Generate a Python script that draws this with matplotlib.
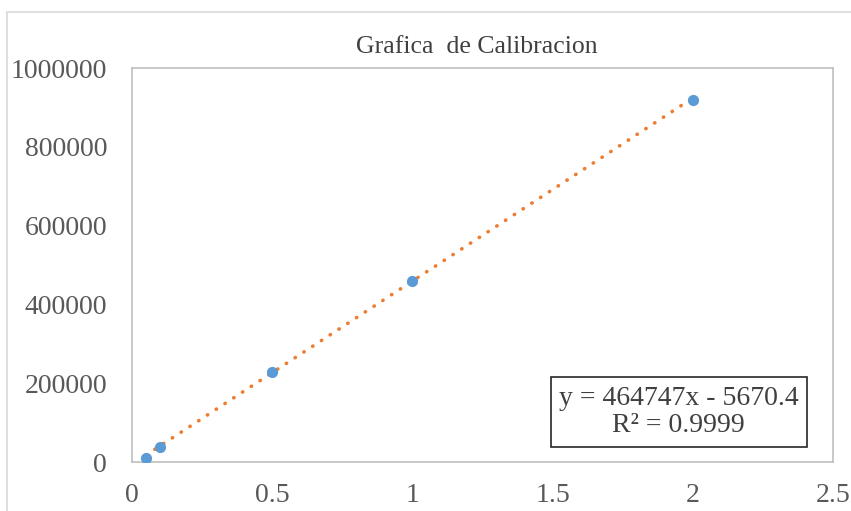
import matplotlib
matplotlib.use("Agg")
import matplotlib.pyplot as plt
from matplotlib.patches import Rectangle
import numpy as np

# calibration standards (concentration vs detector area)
concentracion = [0.05, 0.1, 0.5, 1.0, 2.0]
area = [11000, 38500, 228000, 459500, 919500]

# linear trendline reported on the chart
pendiente = 464747
intercepto = -5670.4
r2 = 0.9999

x_ticks = [0, 0.5, 1, 1.5, 2, 2.5]
y_ticks = [0, 200000, 400000, 600000, 800000, 1000000]

plt.rcParams["font.family"] = ["Liberation Serif", "DejaVu Serif"]

fig = plt.figure(figsize=(8.51, 5.11), dpi=100)
ax = fig.add_axes([132 / 851, 1 - 462 / 511, (833 - 132) / 851, (462 - 68) / 511])

# chart area border
fig.patches.append(Rectangle((7 / 851, -0.1), 1.0, 1 - 12 / 511 + 0.1,
                             transform=fig.transFigure, fill=False,
                             edgecolor="#d9d9d9", linewidth=1.2))

xt = np.array([concentracion[0], concentracion[-1]])
ax.plot(xt, pendiente * xt + intercepto, linestyle=(0, (0.1, 2.8)),
        color="#ed7d31", linewidth=2.6, dash_capstyle="round", zorder=2)
ax.scatter(concentracion, area, s=65, color="#5b9bd5", zorder=3, linewidths=0)

ax.set_xlim(0, 2.5)
ax.set_ylim(0, 1000000)
ax.set_xticks(x_ticks)
ax.set_xticklabels([f"{v:g}" for v in x_ticks])
ax.set_yticks(y_ticks)
ax.set_yticklabels([str(v) for v in y_ticks])
ax.tick_params(length=0, labelsize=20, labelcolor="#595959")
ax.tick_params(axis="y", pad=18)
ax.tick_params(axis="x", pad=15)
for s in ax.spines.values():
    s.set_color("#bfbfbf")
    s.set_linewidth(1.2)

fig.text(477 / 851, 1 - 47 / 511, "Grafica  de Calibracion", ha="center",
         va="center", fontsize=18.5, color="#404040")

ax.text(0.78, 0.127, f"y = {pendiente}x - {abs(intercepto)}\nR² = {r2}",
        transform=ax.transAxes, ha="center", va="center", fontsize=20,
        color="#404040", linespacing=1.15,
        bbox=dict(boxstyle="square,pad=0.3", facecolor="white",
                  edgecolor="#262626", linewidth=1.2))

fig.savefig("out.png", dpi=100)
